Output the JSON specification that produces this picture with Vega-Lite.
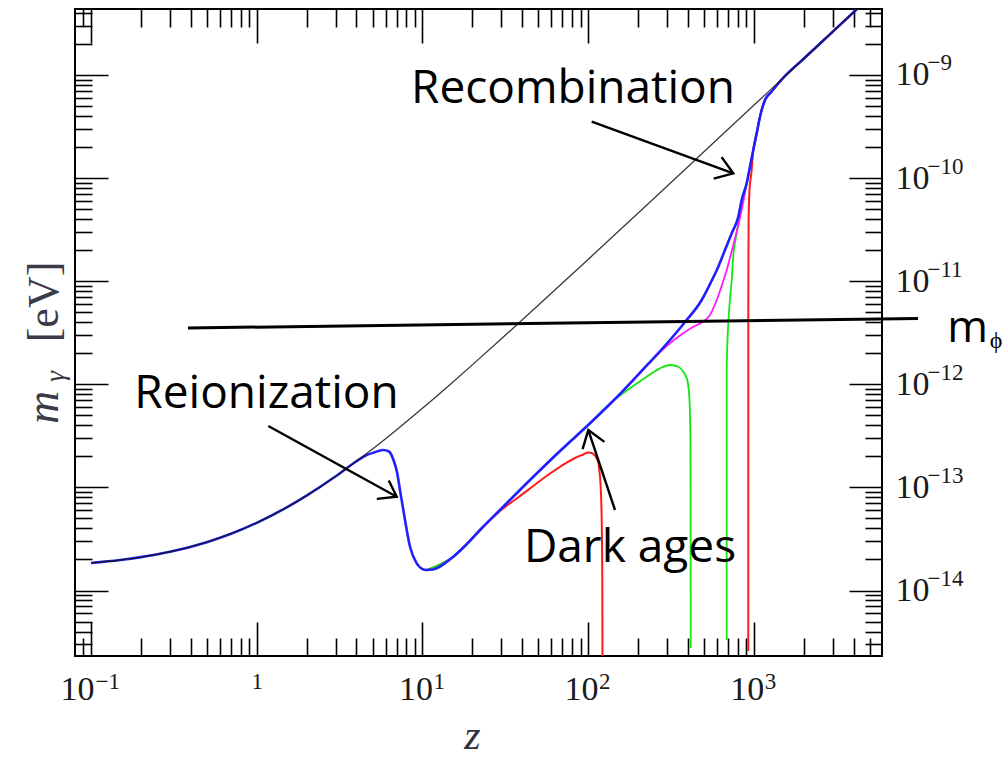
{
  "$schema": "https://vega.github.io/schema/vega-lite/v6.json",
  "width": 807,
  "height": 647,
  "autosize": {"type": "none"},
  "padding": {"left": 75, "top": 9, "right": 126, "bottom": 103},
  "background": "white",
  "config": {
    "view": {"stroke": "#000000", "strokeWidth": 2},
    "axis": {"grid": false, "domain": false, "labelFont": "Liberation Serif", "titleFont": "Liberation Serif", "labelColor": "#1a1a1a"}
  },
  "datasets": {
    "gray": [
      {"z": 0.1, "m": 1.85e-14}, {"z": 0.15, "m": 1.977e-14}, {"z": 0.2, "m": 2.108e-14}, {"z": 0.3, "m": 2.376e-14},
      {"z": 0.5, "m": 2.945e-14}, {"z": 0.7, "m": 3.554e-14}, {"z": 1, "m": 4.534e-14}, {"z": 1.5, "m": 6.337e-14},
      {"z": 2, "m": 8.331e-14}, {"z": 3, "m": 1.283e-13}, {"z": 4, "m": 1.793e-13}, {"z": 5, "m": 2.356e-13},
      {"z": 7, "m": 3.628e-13}, {"z": 10, "m": 5.851e-13}, {"z": 15, "m": 1.026e-12}, {"z": 20, "m": 1.543e-12},
      {"z": 30, "m": 2.767e-12}, {"z": 50, "m": 5.839e-12}, {"z": 100, "m": 1.627e-11}, {"z": 200, "m": 4.568e-11},
      {"z": 500, "m": 1.798e-10}, {"z": 1000, "m": 5.077e-10}, {"z": 1500, "m": 9.324e-10}, {"z": 2000, "m": 1.435e-9},
      {"z": 3000, "m": 2.636e-9}, {"z": 4500, "m": 4.842e-9}
    ],
    "blue": [
      {"i": 0, "z": 0.1, "m": 1.85e-14}, {"i": 1, "z": 0.15, "m": 1.977e-14}, {"i": 2, "z": 0.2, "m": 2.108e-14},
      {"i": 3, "z": 0.3, "m": 2.376e-14}, {"i": 4, "z": 0.5, "m": 2.945e-14}, {"i": 5, "z": 0.7, "m": 3.554e-14},
      {"i": 6, "z": 1, "m": 4.534e-14}, {"i": 7, "z": 1.5, "m": 6.337e-14}, {"i": 8, "z": 2, "m": 8.331e-14},
      {"i": 9, "z": 3, "m": 1.283e-13}, {"i": 10, "z": 4, "m": 1.793e-13}, {"i": 11, "z": 4.567, "m": 2.042e-13},
      {"i": 12, "z": 5.105, "m": 2.18e-13}, {"i": 13, "z": 5.783, "m": 2.305e-13}, {"i": 14, "z": 6.286, "m": 2.229e-13},
      {"i": 15, "z": 6.69, "m": 1.844e-13}, {"i": 16, "z": 7.025, "m": 1.41e-13}, {"i": 17, "z": 7.324, "m": 9.437e-14},
      {"i": 18, "z": 7.853, "m": 4.828e-14}, {"i": 19, "z": 8.418, "m": 2.659e-14}, {"i": 20, "z": 9.24, "m": 1.835e-14},
      {"i": 21, "z": 9.9, "m": 1.634e-14}, {"i": 22, "z": 10.62, "m": 1.581e-14}, {"i": 23, "z": 11.59, "m": 1.598e-14},
      {"i": 24, "z": 12.77, "m": 1.709e-14}, {"i": 25, "z": 15.37, "m": 2.128e-14}, {"i": 26, "z": 18.33, "m": 2.762e-14},
      {"i": 27, "z": 22.27, "m": 3.862e-14}, {"i": 28, "z": 29.39, "m": 6.037e-14}, {"i": 29, "z": 44.61, "m": 1.18e-13},
      {"i": 30, "z": 67.69, "m": 2.254e-13}, {"i": 31, "z": 102.7, "m": 4.184e-13}, {"i": 32, "z": 155.8, "m": 8.048e-13},
      {"i": 33, "z": 236.4, "m": 1.645e-12}, {"i": 34, "z": 312.1, "m": 2.69e-12}, {"i": 35, "z": 384.6, "m": 4.019e-12},
      {"i": 36, "z": 484.8, "m": 6.572e-12}, {"i": 37, "z": 555.5, "m": 1.004e-11}, {"i": 38, "z": 610.8, "m": 1.382e-11},
      {"i": 39, "z": 670.2, "m": 2.007e-11}, {"i": 40, "z": 735.7, "m": 2.914e-11}, {"i": 41, "z": 806.3, "m": 4.222e-11},
      {"i": 42, "z": 845.3, "m": 6.131e-11}, {"i": 43, "z": 906, "m": 8.905e-11}, {"i": 44, "z": 948.7, "m": 1.29e-10},
      {"i": 45, "z": 993.1, "m": 1.874e-10}, {"i": 46, "z": 1041, "m": 2.72e-10}, {"i": 47, "z": 1090, "m": 3.94e-10},
      {"i": 48, "z": 1168, "m": 5.722e-10}, {"i": 49, "z": 1283, "m": 6.92e-10}, {"i": 50, "z": 1400, "m": 8.22e-10},
      {"i": 51, "z": 1500, "m": 9.324e-10}, {"i": 52, "z": 2000, "m": 1.435e-9}, {"i": 53, "z": 3000, "m": 2.636e-9},
      {"i": 54, "z": 4500, "m": 4.842e-9}
    ],
    "magenta": [
      {"i": 0, "z": 22.27, "m": 3.862e-14}, {"i": 1, "z": 29.39, "m": 6.037e-14}, {"i": 2, "z": 44.61, "m": 1.18e-13},
      {"i": 3, "z": 67.69, "m": 2.254e-13}, {"i": 4, "z": 102.7, "m": 4.184e-13}, {"i": 5, "z": 155.8, "m": 8.048e-13},
      {"i": 6, "z": 236.4, "m": 1.645e-12}, {"i": 7, "z": 298.2, "m": 2.352e-12}, {"i": 8, "z": 358.6, "m": 2.973e-12},
      {"i": 9, "z": 423.6, "m": 3.555e-12}, {"i": 10, "z": 484.8, "m": 3.975e-12}, {"i": 11, "z": 544.1, "m": 4.7e-12},
      {"i": 12, "z": 597.2, "m": 6.572e-12}, {"i": 13, "z": 642.9, "m": 9.187e-12}, {"i": 14, "z": 686.3, "m": 1.284e-11},
      {"i": 15, "z": 752.1, "m": 2.244e-11}, {"i": 16, "z": 806.3, "m": 3.509e-11}, {"i": 17, "z": 849, "m": 5.129e-11},
      {"i": 18, "z": 906, "m": 8.905e-11}, {"i": 19, "z": 948.7, "m": 1.29e-10}, {"i": 20, "z": 993.1, "m": 1.874e-10},
      {"i": 21, "z": 1041, "m": 2.72e-10}, {"i": 22, "z": 1090, "m": 3.94e-10}, {"i": 23, "z": 1168, "m": 5.722e-10},
      {"i": 24, "z": 1283, "m": 6.92e-10}, {"i": 25, "z": 1400, "m": 8.22e-10}, {"i": 26, "z": 1500, "m": 9.324e-10},
      {"i": 27, "z": 2000, "m": 1.435e-9}, {"i": 28, "z": 3000, "m": 2.636e-9}, {"i": 29, "z": 4500, "m": 4.842e-9}
    ],
    "green": [
      {"s": "a", "i": 0, "z": 10.62, "m": 1.581e-14}, {"s": "a", "i": 1, "z": 15.37, "m": 2.128e-14},
      {"s": "a", "i": 2, "z": 22.27, "m": 3.862e-14}, {"s": "a", "i": 3, "z": 29.39, "m": 6.037e-14},
      {"s": "a", "i": 4, "z": 44.61, "m": 1.18e-13}, {"s": "a", "i": 5, "z": 67.69, "m": 2.254e-13},
      {"s": "a", "i": 6, "z": 102.7, "m": 4.184e-13}, {"s": "a", "i": 7, "z": 141.9, "m": 6.95e-13},
      {"s": "a", "i": 8, "z": 179, "m": 9.146e-13}, {"s": "a", "i": 9, "z": 225.8, "m": 1.185e-12},
      {"s": "a", "i": 10, "z": 271.6, "m": 1.429e-12}, {"s": "a", "i": 11, "z": 312.1, "m": 1.539e-12},
      {"s": "a", "i": 12, "z": 350.3, "m": 1.481e-12}, {"s": "a", "i": 13, "z": 375.4, "m": 1.325e-12},
      {"s": "a", "i": 14, "z": 396.9, "m": 1.101e-12}, {"s": "a", "i": 15, "z": 408, "m": 7.58e-13},
      {"s": "a", "i": 16, "z": 412, "m": 5.232e-13}, {"s": "a", "i": 17, "z": 414.9, "m": 2.481e-13},
      {"s": "a", "i": 18, "z": 415.9, "m": 1.976e-14}, {"s": "a", "i": 19, "z": 416.1, "m": 2.768e-15},
      {"s": "b", "i": 0, "z": 686.1, "m": 3.311e-15}, {"s": "b", "i": 1, "z": 686.3, "m": 1.376e-12},
      {"s": "b", "i": 2, "z": 692.1, "m": 2.404e-12}, {"s": "b", "i": 3, "z": 701.8, "m": 3.93e-12},
      {"s": "b", "i": 4, "z": 713.6, "m": 5.873e-12}, {"s": "b", "i": 5, "z": 735.7, "m": 1.027e-11},
      {"s": "b", "i": 6, "z": 752.1, "m": 1.795e-11}, {"s": "b", "i": 7, "z": 775.5, "m": 2.51e-11},
      {"s": "b", "i": 8, "z": 808.5, "m": 3.751e-11}, {"s": "b", "i": 9, "z": 845.3, "m": 6.131e-11},
      {"s": "b", "i": 10, "z": 906, "m": 8.905e-11}, {"s": "b", "i": 11, "z": 948.7, "m": 1.29e-10},
      {"s": "b", "i": 12, "z": 993.1, "m": 1.874e-10}, {"s": "b", "i": 13, "z": 1041, "m": 2.72e-10},
      {"s": "b", "i": 14, "z": 1090, "m": 3.94e-10}, {"s": "b", "i": 15, "z": 1168, "m": 5.722e-10},
      {"s": "b", "i": 16, "z": 1283, "m": 6.92e-10}, {"s": "b", "i": 17, "z": 1400, "m": 8.22e-10},
      {"s": "b", "i": 18, "z": 1500, "m": 9.324e-10}, {"s": "b", "i": 19, "z": 2000, "m": 1.435e-9},
      {"s": "b", "i": 20, "z": 3000, "m": 2.636e-9}, {"s": "b", "i": 21, "z": 4500, "m": 4.842e-9}
    ],
    "red": [
      {"s": "a", "i": 0, "z": 10.62, "m": 1.581e-14}, {"s": "a", "i": 1, "z": 15.37, "m": 2.128e-14},
      {"s": "a", "i": 2, "z": 22.27, "m": 3.862e-14}, {"s": "a", "i": 3, "z": 29.39, "m": 5.904e-14},
      {"s": "a", "i": 4, "z": 37.07, "m": 7.802e-14}, {"s": "a", "i": 5, "z": 46.7, "m": 1.032e-13},
      {"s": "a", "i": 6, "z": 58.9, "m": 1.364e-13}, {"s": "a", "i": 7, "z": 74.28, "m": 1.743e-13},
      {"s": "a", "i": 8, "z": 83.37, "m": 1.928e-13}, {"s": "a", "i": 9, "z": 93.55, "m": 2.085e-13},
      {"s": "a", "i": 10, "z": 99.86, "m": 2.18e-13}, {"s": "a", "i": 11, "z": 105.1, "m": 2.156e-13},
      {"s": "a", "i": 12, "z": 110, "m": 2.039e-13}, {"s": "a", "i": 13, "z": 112.7, "m": 1.906e-13},
      {"s": "a", "i": 14, "z": 115.5, "m": 1.725e-13}, {"s": "a", "i": 15, "z": 116.8, "m": 1.475e-13},
      {"s": "a", "i": 16, "z": 119.1, "m": 1.016e-13}, {"s": "a", "i": 17, "z": 120.8, "m": 4.828e-14},
      {"s": "a", "i": 18, "z": 121.8, "m": 1.264e-14}, {"s": "a", "i": 19, "z": 122.2, "m": 1.5e-15},
      {"s": "b", "i": 0, "z": 926.4, "m": 2.588e-15}, {"s": "b", "i": 1, "z": 926.6, "m": 6.572e-12},
      {"s": "b", "i": 2, "z": 930.4, "m": 3.923e-11}, {"s": "b", "i": 3, "z": 942.1, "m": 7.664e-11},
      {"s": "b", "i": 4, "z": 968.5, "m": 1.146e-10}, {"s": "b", "i": 5, "z": 993.1, "m": 1.874e-10},
      {"s": "b", "i": 6, "z": 1041, "m": 2.72e-10}, {"s": "b", "i": 7, "z": 1090, "m": 3.94e-10},
      {"s": "b", "i": 8, "z": 1168, "m": 5.722e-10}, {"s": "b", "i": 9, "z": 1283, "m": 6.92e-10},
      {"s": "b", "i": 10, "z": 1400, "m": 8.22e-10}, {"s": "b", "i": 11, "z": 1500, "m": 9.324e-10},
      {"s": "b", "i": 12, "z": 2000, "m": 1.435e-9}, {"s": "b", "i": 13, "z": 3000, "m": 2.636e-9},
      {"s": "b", "i": 14, "z": 4500, "m": 4.842e-9}
    ],
    "arrows": [
      {"a": "rec", "i": 0, "z": 105.1, "m": 3.524e-10}, {"a": "rec", "i": 1, "z": 752.0, "m": 1.113e-10},
      {"a": "recHead", "i": 0, "z": 639.2, "m": 1.598e-10}, {"a": "recHead", "i": 1, "z": 752.0, "m": 1.113e-10}, {"a": "recHead", "i": 2, "z": 572.9, "m": 9.867e-11},
      {"a": "reion", "i": 0, "z": 1.175, "m": 3.939e-13}, {"a": "reion", "i": 1, "z": 6.998, "m": 8.126e-14},
      {"a": "reionHead", "i": 0, "z": 6.269, "m": 1.166e-13}, {"a": "reionHead", "i": 1, "z": 6.998, "m": 8.126e-14}, {"a": "reionHead", "i": 2, "z": 5.306, "m": 7.737e-14},
      {"a": "dark", "i": 0, "z": 145.3, "m": 6.037e-14}, {"a": "dark", "i": 1, "z": 100.3, "m": 3.603e-13},
      {"a": "darkHead", "i": 0, "z": 92.64, "m": 2.347e-13}, {"a": "darkHead", "i": 1, "z": 100.3, "m": 3.603e-13}, {"a": "darkHead", "i": 2, "z": 125.4, "m": 2.762e-13}
    ],
    "phiLine": [
      {"z": 0.3848, "m": 3.516e-12}, {"z": 9793, "m": 4.346e-12}
    ],
    "notes": [
      {"t": "Recombination", "z": 81.08, "m": 5.352e-10},
      {"t": "Reionization", "z": 1.146, "m": 5.889e-13},
      {"t": "Dark ages", "z": 179.0, "m": 1.903e-14}
    ],
    "phiMain": [{"t": "m", "z": 14700, "m": 2.572e-12}],
    "phiSub": [{"t": "ϕ", "z": 26500, "m": 2.249e-12}]
  },
  "resolve": {"axis": {"x": "independent", "y": "independent"}},
  "layer": [
    {
      "data": {"name": "red"},
      "mark": {"type": "line", "color": "#ff1a1a", "strokeWidth": 2, "clip": true, "interpolate": "monotone"},
      "encoding": {
        "x": {"field": "z", "type": "quantitative", "scale": {"type": "log", "domain": [0.08006, 5939], "nice": false},
          "axis": {"orient": "bottom", "title": null, "labels": false, "domain": false,
            "values": [0.09, 0.1, 0.2, 0.3, 0.4, 0.5, 0.6, 0.7, 0.8, 0.9, 1, 2, 3, 4, 5, 6, 7, 8, 9, 10, 20, 30, 40, 50, 60, 70, 80, 90, 100, 200, 300, 400, 500, 600, 700, 800, 900, 1000, 2000, 3000, 4000, 5000],
            "tickColor": "#000000", "tickWidth": 1.6,
            "tickSize": {"condition": {"test": "abs(log(datum.value)/LN10 - round(log(datum.value)/LN10)) < 0.001", "value": -34}, "value": -18}}},
        "y": {"field": "m", "type": "quantitative", "scale": {"type": "log", "domain": [2.316e-15, 4.366e-9], "nice": false},
          "axis": {"orient": "left", "labels": false, "domain": false,
            "values": [3e-15, 4e-15, 5e-15, 6e-15, 7e-15, 8e-15, 9e-15, 1e-14, 2e-14, 3e-14, 4e-14, 5e-14, 6e-14, 7e-14, 8e-14, 9e-14, 1e-13, 2e-13, 3e-13, 4e-13, 5e-13, 6e-13, 7e-13, 8e-13, 9e-13, 1e-12, 2e-12, 3e-12, 4e-12, 5e-12, 6e-12, 7e-12, 8e-12, 9e-12, 1e-11, 2e-11, 3e-11, 4e-11, 5e-11, 6e-11, 7e-11, 8e-11, 9e-11, 1e-10, 2e-10, 3e-10, 4e-10, 5e-10, 6e-10, 7e-10, 8e-10, 9e-10, 1e-9, 2e-9, 3e-9, 4e-9],
            "tickColor": "#000000", "tickWidth": 1.6,
            "tickSize": {"condition": {"test": "abs(log(datum.value)/LN10 - round(log(datum.value)/LN10)) < 0.001", "value": -33}, "value": -17},
            "title": "[eV]", "titleFontSize": 44, "titleFontWeight": "normal", "titleColor": "#3a3a48",
            "titleAngle": -90, "titleX": -18, "titleY": 292.5, "titleAlign": "center", "titleBaseline": "alphabetic"}},
        "detail": {"field": "s"},
        "order": {"field": "i", "type": "quantitative"}
      }
    },
    {
      "data": {"name": "green"},
      "mark": {"type": "line", "color": "#14e614", "strokeWidth": 1.8, "clip": true, "interpolate": "monotone"},
      "encoding": {
        "x": {"field": "z", "type": "quantitative", "scale": {"type": "log", "domain": [0.08006, 5939], "nice": false},
          "axis": {"orient": "top", "title": null, "labels": false, "domain": false,
            "values": [0.09, 0.1, 0.2, 0.3, 0.4, 0.5, 0.6, 0.7, 0.8, 0.9, 1, 2, 3, 4, 5, 6, 7, 8, 9, 10, 20, 30, 40, 50, 60, 70, 80, 90, 100, 200, 300, 400, 500, 600, 700, 800, 900, 1000, 2000, 3000, 4000, 5000],
            "tickColor": "#000000", "tickWidth": 1.6,
            "tickSize": {"condition": {"test": "abs(log(datum.value)/LN10 - round(log(datum.value)/LN10)) < 0.001", "value": -34}, "value": -18}}},
        "y": {"field": "m", "type": "quantitative", "scale": {"type": "log", "domain": [2.316e-15, 4.366e-9], "nice": false},
          "axis": {"orient": "right", "title": null, "labels": false, "domain": false,
            "values": [3e-15, 4e-15, 5e-15, 6e-15, 7e-15, 8e-15, 9e-15, 1e-14, 2e-14, 3e-14, 4e-14, 5e-14, 6e-14, 7e-14, 8e-14, 9e-14, 1e-13, 2e-13, 3e-13, 4e-13, 5e-13, 6e-13, 7e-13, 8e-13, 9e-13, 1e-12, 2e-12, 3e-12, 4e-12, 5e-12, 6e-12, 7e-12, 8e-12, 9e-12, 1e-11, 2e-11, 3e-11, 4e-11, 5e-11, 6e-11, 7e-11, 8e-11, 9e-11, 1e-10, 2e-10, 3e-10, 4e-10, 5e-10, 6e-10, 7e-10, 8e-10, 9e-10, 1e-9, 2e-9, 3e-9, 4e-9],
            "tickColor": "#000000", "tickWidth": 1.6,
            "tickSize": {"condition": {"test": "abs(log(datum.value)/LN10 - round(log(datum.value)/LN10)) < 0.001", "value": -33}, "value": -17}}},
        "detail": {"field": "s"},
        "order": {"field": "i", "type": "quantitative"}
      }
    },
    {
      "data": {"name": "magenta"},
      "mark": {"type": "line", "color": "#ff1aff", "strokeWidth": 1.8, "clip": true, "interpolate": "monotone"},
      "encoding": {
        "x": {"field": "z", "type": "quantitative", "scale": {"type": "log", "domain": [0.08006, 5939], "nice": false},
          "axis": {"orient": "bottom", "values": [0.1, 1, 10, 100, 1000], "ticks": false, "domain": false,
            "labelExpr": "datum.value == 1 ? '' : '10'", "labelFontSize": 34, "labelPadding": 16,
            "labelOffset": {"condition": {"test": "datum.value < 0.5", "value": -14}, "value": -7},
            "labelFlush": false, "labelOverlap": false, "labelBound": false,
            "title": "z", "titleFontSize": 42, "titleFontStyle": "italic", "titleFontWeight": "normal", "titleColor": "#303040",
            "titleX": 397, "titleY": 92, "titleAlign": "center", "titleBaseline": "alphabetic"}},
        "y": {"field": "m", "type": "quantitative", "scale": {"type": "log", "domain": [2.316e-15, 4.366e-9], "nice": false},
          "axis": {"orient": "right", "title": null, "values": [1e-14, 1e-13, 1e-12, 1e-11, 1e-10, 1e-9], "ticks": false, "domain": false,
            "labelExpr": "'10'", "labelFontSize": 34, "labelPadding": 13, "labelAlign": "left", "labelBaseline": "middle",
            "labelFlush": false, "labelOverlap": false, "labelBound": false}},
        "order": {"field": "i", "type": "quantitative"}
      }
    },
    {
      "data": {"name": "blue"},
      "mark": {"type": "line", "color": "#2020ff", "strokeWidth": 2.6, "clip": true, "interpolate": "monotone"},
      "encoding": {
        "x": {"field": "z", "type": "quantitative", "scale": {"type": "log", "domain": [0.08006, 5939], "nice": false},
          "axis": {"orient": "bottom", "title": null, "values": [0.1, 1, 10, 100, 1000], "ticks": false, "domain": false,
            "labelExpr": "datum.value < 0.5 ? '\u22121' : datum.value < 50 ? '1' : datum.value < 500 ? '2' : '3'",
            "labelFontSize": 23, "labelPadding": 14,
            "labelAlign": {"condition": {"test": "datum.value == 1", "value": "center"}, "value": "left"},
            "labelOffset": {"condition": [{"test": "datum.value < 0.5", "value": 4}, {"test": "datum.value == 1", "value": 0}], "value": 10.5},
            "labelFlush": false, "labelOverlap": false, "labelBound": false}},
        "y": {"field": "m", "type": "quantitative", "scale": {"type": "log", "domain": [2.316e-15, 4.366e-9], "nice": false},
          "axis": {"orient": "right", "title": null, "values": [1e-14, 1e-13, 1e-12, 1e-11, 1e-10, 1e-9], "ticks": false, "domain": false,
            "labelExpr": "'\u2212' + (-round(log(datum.value)/LN10))", "labelFontSize": 23, "labelPadding": 45,
            "labelOffset": -12, "labelAlign": "left", "labelBaseline": "middle",
            "labelFlush": false, "labelOverlap": false, "labelBound": false}},
        "order": {"field": "i", "type": "quantitative"}
      }
    },
    {
      "data": {"name": "gray"},
      "mark": {"type": "line", "color": "#161616", "strokeWidth": 1.3, "opacity": 0.85, "clip": true, "interpolate": "monotone"},
      "encoding": {
        "x": {"field": "z", "type": "quantitative", "scale": {"type": "log", "domain": [0.08006, 5939], "nice": false}, "axis": null},
        "y": {"field": "m", "type": "quantitative", "scale": {"type": "log", "domain": [2.316e-15, 4.366e-9], "nice": false},
          "axis": {"orient": "left", "labels": false, "ticks": false, "domain": false, "values": [1e-12],
            "title": "m", "titleFontSize": 46, "titleFontStyle": "italic", "titleFontWeight": "normal", "titleColor": "#3a3a48",
            "titleAngle": -90, "titleX": -18, "titleY": 398, "titleAlign": "center", "titleBaseline": "alphabetic"}}
      }
    },
    {
      "data": {"name": "phiLine"},
      "mark": {"type": "line", "color": "#000000", "strokeWidth": 3, "clip": false},
      "encoding": {
        "x": {"field": "z", "type": "quantitative", "scale": {"type": "log", "domain": [0.08006, 5939], "nice": false}, "axis": null},
        "y": {"field": "m", "type": "quantitative", "scale": {"type": "log", "domain": [2.316e-15, 4.366e-9], "nice": false},
          "axis": {"orient": "left", "labels": false, "ticks": false, "domain": false, "values": [1e-12],
            "title": "γ", "titleFontSize": 28, "titleFontStyle": "italic", "titleFontWeight": "normal", "titleColor": "#3a3a48",
            "titleAngle": -90, "titleX": -12, "titleY": 367, "titleAlign": "center", "titleBaseline": "alphabetic"}}
      }
    },
    {
      "data": {"name": "arrows"},
      "mark": {"type": "line", "color": "#000000", "strokeWidth": 2.4, "clip": false, "strokeJoin": "miter"},
      "encoding": {
        "x": {"field": "z", "type": "quantitative", "scale": {"type": "log", "domain": [0.08006, 5939], "nice": false}, "axis": null},
        "y": {"field": "m", "type": "quantitative", "scale": {"type": "log", "domain": [2.316e-15, 4.366e-9], "nice": false}, "axis": null},
        "detail": {"field": "a"},
        "order": {"field": "i", "type": "quantitative"}
      }
    },
    {
      "data": {"name": "notes"},
      "mark": {"type": "text", "font": "Open Sans", "fontSize": 46, "color": "#000000", "align": "center", "baseline": "alphabetic", "clip": false},
      "encoding": {
        "x": {"field": "z", "type": "quantitative", "scale": {"type": "log", "domain": [0.08006, 5939], "nice": false}, "axis": null},
        "y": {"field": "m", "type": "quantitative", "scale": {"type": "log", "domain": [2.316e-15, 4.366e-9], "nice": false}, "axis": null},
        "text": {"field": "t"}
      }
    },
    {
      "data": {"name": "phiMain"},
      "mark": {"type": "text", "font": "Open Sans", "fontSize": 44, "color": "#000000", "align": "left", "baseline": "alphabetic", "clip": false},
      "encoding": {
        "x": {"field": "z", "type": "quantitative", "scale": {"type": "log", "domain": [0.08006, 5939], "nice": false}, "axis": null},
        "y": {"field": "m", "type": "quantitative", "scale": {"type": "log", "domain": [2.316e-15, 4.366e-9], "nice": false}, "axis": null},
        "text": {"field": "t"}
      }
    },
    {
      "data": {"name": "phiSub"},
      "mark": {"type": "text", "font": "Open Sans", "fontSize": 24, "color": "#000000", "align": "left", "baseline": "alphabetic", "clip": false},
      "encoding": {
        "x": {"field": "z", "type": "quantitative", "scale": {"type": "log", "domain": [0.08006, 5939], "nice": false}, "axis": null},
        "y": {"field": "m", "type": "quantitative", "scale": {"type": "log", "domain": [2.316e-15, 4.366e-9], "nice": false}, "axis": null},
        "text": {"field": "t"}
      }
    }
  ]
}
